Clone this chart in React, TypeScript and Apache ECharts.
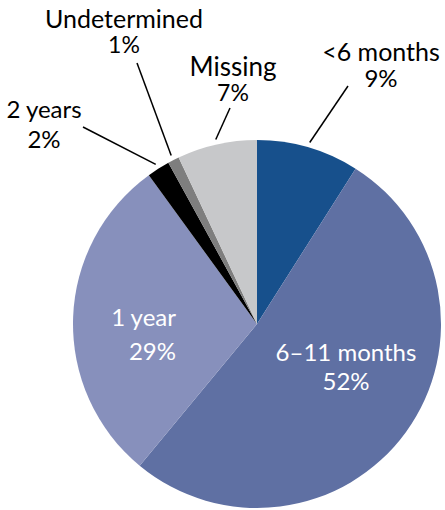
import React, { useEffect, useRef } from 'react';
import * as echarts from 'echarts';

// ---- data ----
const categories = ['<6 months', '6–11 months', '1 year', '2 years', 'Undetermined', 'Missing'];
const values = [9, 52, 29, 2, 1, 7];

// ---- styles / layout ----
const sliceColors = ['#17508C', '#5F70A3', '#8790BC', '#000000', '#7E7E7E', '#C7C8CA'];
const CX = 257;
const CY = 324;
const R = 184;
const labelAnchors: number[][] = [[381, 64], [346, 366], [176, 333], [44, 123], [124, 31], [233, 79]];
const labelAlign = ['center', 'center', 'right', 'center', 'center', 'center'];
const leaderEnds: (number[] | null)[] = [[348, 86], null, null, [83, 127], [137, 63], [230, 108]];
const isInside = [false, true, true, false, false, false];
const nameSize = [25, 24, 24, 24, 25, 26];
const pctSize = [24, 24, 24, 24, 23, 23];
const lineGap = [26, 29, 34, 30, 26, 26];
const FONT = 'Lato';

export default function App() {
  const ref = useRef<HTMLDivElement>(null);
  useEffect(() => {
    document.body.style.margin = '0';
    if (!ref.current) return;
    const chart = echarts.init(ref.current, null, { renderer: 'svg' });
    const total = values.reduce((a, b) => a + b, 0);
    const cum: number[] = [];
    values.reduce((acc, v, i) => { cum[i] = acc; return acc + v; }, 0);

    const data = categories.map((name, i) => {
      const color = isInside[i] ? '#FFFFFF' : '#000000';
      return {
        name,
        value: values[i],
        itemStyle: { color: sliceColors[i] },
        label: {
          show: true,
          position: 'outside',
          formatter: '{n|' + name + '}\n{p|' + values[i] + '%}',
          rich: {
            n: { fontFamily: FONT, fontSize: nameSize[i], lineHeight: lineGap[i], color, align: labelAlign[i] },
            p: { fontFamily: FONT, fontSize: pctSize[i], lineHeight: lineGap[i], color, align: labelAlign[i] },
          },
        },
        labelLine: {
          show: !isInside[i],
          length: 10,
          length2: 0,
          lineStyle: { color: '#000000', width: 1.5 },
        },
      };
    });

    chart.setOption({
      animation: false,
      backgroundColor: '#FFFFFF',
      series: [
        {
          type: 'pie',
          center: [CX, CY],
          radius: R,
          startAngle: 90,
          clockwise: true,
          avoidLabelOverlap: false,
          silent: true,
          itemStyle: { borderWidth: 0 },
          data,
          labelLayout: (params: any) => {
            const i = params.dataIndex;
            const [x, y] = labelAnchors[i];
            const out: any = { x, y, align: labelAlign[i], verticalAlign: 'middle' };
            const end = leaderEnds[i];
            if (end) {
              const mid = ((cum[i] + values[i] / 2) / total) * Math.PI * 2;
              const rr = R + 5;
              const sx = CX + rr * Math.sin(mid);
              const sy = CY - rr * Math.cos(mid);
              out.labelLinePoints = [[sx, sy], [end[0], end[1]]];
            }
            return out;
          },
        },
      ],
    });
    return () => chart.dispose();
  }, []);
  return <div ref={ref} style={{ width: 445, height: 510 }} />;
}
